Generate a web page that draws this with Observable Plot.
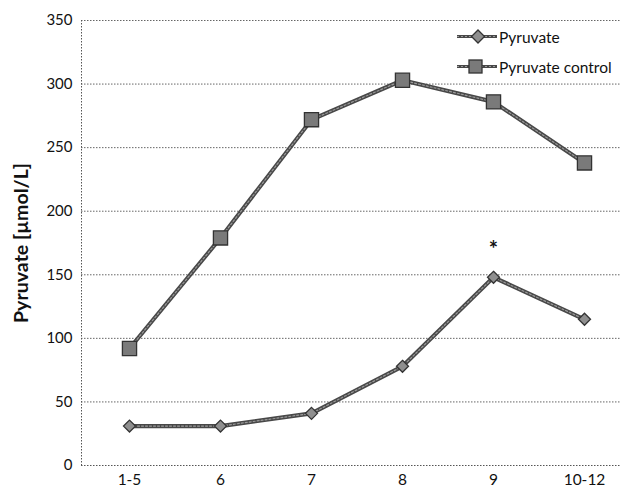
<!DOCTYPE html>
<html>
<head>
<meta charset="utf-8">
<script src="https://cdn.jsdelivr.net/npm/d3@7"></script>
<script src="https://cdn.jsdelivr.net/npm/@observablehq/plot@0.6"></script>
<style>
  html, body { margin: 0; padding: 0; background: #fff; }
  #wrap { position: relative; width: 620px; height: 488px; font-family: Lato, "Open Sans", sans-serif; }
  .leg { position: absolute; left: 456px; font-size: 15.5px; color: #111; display: flex; align-items: center; }
  .leg svg { display: block; margin-right: 1px; }
</style>
</head>
<body>
<div id="wrap"></div>
<script>
const categories = ["1-5", "6", "7", "8", "9", "10-12"];
const pyruvate = [31, 31, 41, 78, 148, 115];
const pyruvateControl = [92, 179, 272, 303, 286, 238];
const yTicks = [0, 50, 100, 150, 200, 250, 300, 350];
const seriesNames = ["Pyruvate", "Pyruvate control"];
const significant = ["9"];

const rows = [];
categories.forEach((c, i) => {
  rows.push({cat: c, value: pyruvate[i], series: seriesNames[0]});
  rows.push({cat: c, value: pyruvateControl[i], series: seriesNames[1]});
});
const stars = rows.filter(d => d.series === seriesNames[0] && significant.includes(d.cat));

const lineStyle = {x: "cat", y: "value", z: "series", stroke: "#484848", strokeWidth: 4.2};
const lineTexture = {x: "cat", y: "value", z: "series", stroke: "#9a9a9a", strokeWidth: 1.2, strokeDasharray: "2,2"};

const chart = Plot.plot({
  width: 620,
  height: 488,
  marginLeft: 81,
  marginRight: 0,
  marginTop: 20,
  marginBottom: 23,
  style: {fontFamily: "Lato, 'Open Sans', sans-serif", fontSize: "15px", color: "#111", background: "#fff", overflow: "visible"},
  x: {type: "point", domain: categories, range: [127, 586], padding: 0},
  y: {domain: [0, 350], ticks: yTicks},
  marks: [
    Plot.ruleY(yTicks.filter(t => t > 0), {stroke: "#666", strokeWidth: 1, strokeDasharray: "1.5,1.5"}),
    Plot.ruleY([0], {stroke: "#555", strokeWidth: 1, strokeDasharray: "1.5,1.5"}),
    Plot.axisX({tickSize: 0, tickPadding: 8, label: null, fontSize: 15.5}),
    Plot.axisY({ticks: yTicks, tickSize: 0, tickPadding: 9, label: "Pyruvate [µmol/L]", labelAnchor: "center", labelArrow: "none", labelOffset: 67, fontSize: 15}),
    Plot.lineY(rows, lineStyle),
    Plot.lineY(rows, lineTexture),
    Plot.dot(rows.filter(d => d.series === seriesNames[1]), {x: "cat", y: "value", symbol: "square", r: 8, fill: "#7a7a7a", stroke: "#333", strokeWidth: 1.3}),
    Plot.dot(rows.filter(d => d.series === seriesNames[0]), {x: "cat", y: "value", symbol: "diamond2", r: 5.4, fill: "#8f8f8f", stroke: "#333", strokeWidth: 1.3}),
    Plot.text(stars, {x: "cat", y: "value", text: () => "*", dy: -27, fontSize: 22, fontWeight: "bold", fill: "#111"})
  ]
});

const svg = d3.select(chart);
svg.selectAll("g[aria-label='y-axis label'] text")
  .attr("font-weight", "bold").attr("font-size", 19)
  .attr("textLength", 160).attr("lengthAdjust", "spacingAndGlyphs");

const wrap = document.getElementById("wrap");
wrap.appendChild(chart);

// dotted left axis line along the frame edge
svg.append("line")
  .attr("x1", 81.5).attr("x2", 81.5)
  .attr("y1", 20).attr("y2", 465)
  .attr("stroke", "#555").attr("stroke-dasharray", "1.5,1.5");

// legend
const legendItems = [
  {name: seriesNames[0], symbol: "diamond", top: 27},
  {name: seriesNames[1], symbol: "square", top: 57}
];
legendItems.forEach(item => {
  const div = document.createElement("div");
  div.className = "leg";
  div.style.top = item.top + "px";
  const marker = item.symbol === "square"
    ? '<rect x="13" y="3" width="13" height="13" fill="#7a7a7a" stroke="#333" stroke-width="1.3"/>'
    : '<path d="M22,3 L28.5,9.5 L22,16 L15.5,9.5 Z" fill="#8f8f8f" stroke="#333" stroke-width="1.3"/>';
  div.innerHTML = '<svg width="42" height="19"><line x1="1" x2="41" y1="9.5" y2="9.5" stroke="#484848" stroke-width="3"/>' +
    '<line x1="1" x2="41" y1="9.5" y2="9.5" stroke="#9a9a9a" stroke-width="1" stroke-dasharray="2,2"/>' + marker + '</svg>' +
    '<span>' + item.name + '</span>';
  wrap.appendChild(div);
});
</script>
</body>
</html>
